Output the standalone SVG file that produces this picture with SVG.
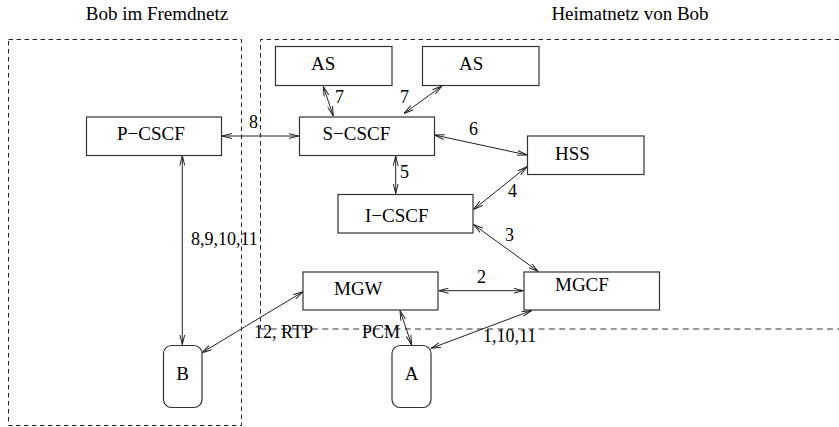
<svg xmlns="http://www.w3.org/2000/svg" width="839" height="427" viewBox="0 0 839 427">
<style>
.box{fill:#fff;stroke:#333;stroke-width:1.2}
.t{font-family:"Liberation Serif","Times New Roman",serif;font-size:19px;fill:#000}
.lbl{font-family:"Liberation Serif","Times New Roman",serif;font-size:18px;fill:#000}
.dash{fill:none;stroke:#222;stroke-width:1;stroke-dasharray:4.5,3.5}
.dash2{fill:none;stroke:#777;stroke-width:1.6;stroke-dasharray:6,4.3}
.c{stroke:#222;stroke-width:1;fill:none;marker-start:url(#a);marker-end:url(#a)}
</style>
<defs>
<marker id="a" viewBox="0 0 10 6" refX="10" refY="3" markerWidth="10" markerHeight="6" markerUnits="userSpaceOnUse" orient="auto-start-reverse">
<path d="M0,0.5 L10,3 L0,5.5" fill="none" stroke="#222" stroke-width="1"/>
</marker>
</defs>
<rect width="839" height="427" fill="#fff"/>
<g id="regions">
<text class="t" x="157" y="20" text-anchor="middle">Bob im Fremdnetz</text>
<text class="t" x="630" y="20" text-anchor="middle">Heimatnetz von Bob</text>
<rect class="dash" x="8.5" y="39.5" width="233" height="386"/>
<path class="dash" d="M839,39.5 H260.5 V329"/>
<path class="dash2" d="M260.5,329 H839"/>
</g>
<g id="connectors">
<line class="c" x1="222" y1="136" x2="298.5" y2="136"/>
<line class="c" x1="323.3" y1="86.5" x2="333.3" y2="116"/>
<line class="c" x1="442" y1="86" x2="404" y2="113.5"/>
<line class="c" x1="434.5" y1="135" x2="527" y2="155"/>
<line class="c" x1="395.7" y1="156" x2="395.7" y2="193.5"/>
<line class="c" x1="527" y1="166.7" x2="473.5" y2="209.5"/>
<line class="c" x1="473.5" y1="224.5" x2="538.3" y2="271.5"/>
<line class="c" x1="438.5" y1="290.7" x2="523.5" y2="290.7"/>
<line class="c" x1="303" y1="291.7" x2="202" y2="352.7"/>
<line class="c" x1="400" y1="310.5" x2="411.7" y2="345"/>
<line class="c" x1="531.7" y1="310.5" x2="431" y2="348.3"/>
<line class="c" x1="182.3" y1="155.5" x2="182.3" y2="344.5"/>
</g>
<g id="labels">
<text class="lbl" x="335" y="103">7</text>
<text class="lbl" x="400" y="103">7</text>
<text class="lbl" x="249" y="128">8</text>
<text class="lbl" x="400" y="178">5</text>
<text class="lbl" x="469" y="135">6</text>
<text class="lbl" x="508" y="197">4</text>
<text class="lbl" x="505" y="241">3</text>
<text class="lbl" x="477" y="283">2</text>
<text class="lbl" x="191" y="245">8,9,10,11</text>
<text class="lbl" x="254" y="338">12, RTP</text>
<text class="lbl" x="362" y="338">PCM</text>
<text class="lbl" x="483" y="342">1,10,11</text>
</g>
<g id="as1"><rect class="box" x="275.5" y="46.5" width="116.5" height="39"/><text class="t" x="311" y="70">AS</text></g>
<g id="as2"><rect class="box" x="422.5" y="46.5" width="116.5" height="39"/><text class="t" x="459" y="70">AS</text></g>
<g id="pcscf"><rect class="box" x="86.5" y="117" width="135" height="38.5"/><text class="t" x="117" y="140">P−CSCF</text></g>
<g id="scscf"><rect class="box" x="299.5" y="117" width="135" height="38.5"/><text class="t" x="322.5" y="140">S−CSCF</text></g>
<g id="hss"><rect class="box" x="527.5" y="136" width="116.5" height="38.5"/><text class="t" x="555" y="160">HSS</text></g>
<g id="icscf"><rect class="box" x="338" y="194.5" width="135" height="38.5"/><text class="t" x="365" y="221.5">I−CSCF</text></g>
<g id="mgw"><rect class="box" x="303" y="272" width="135" height="38"/><text class="t" x="334" y="295">MGW</text></g>
<g id="mgcf"><rect class="box" x="524" y="272" width="135.5" height="38"/><text class="t" x="555" y="291">MGCF</text></g>
<g id="b"><rect class="box" x="163.5" y="345.5" width="38.5" height="62" rx="8"/><text class="t" x="182.5" y="380" text-anchor="middle">B</text></g>
<g id="a_node"><rect class="box" x="392" y="345.5" width="39" height="62" rx="8"/><text class="t" x="411.5" y="380" text-anchor="middle">A</text></g>
</svg>
